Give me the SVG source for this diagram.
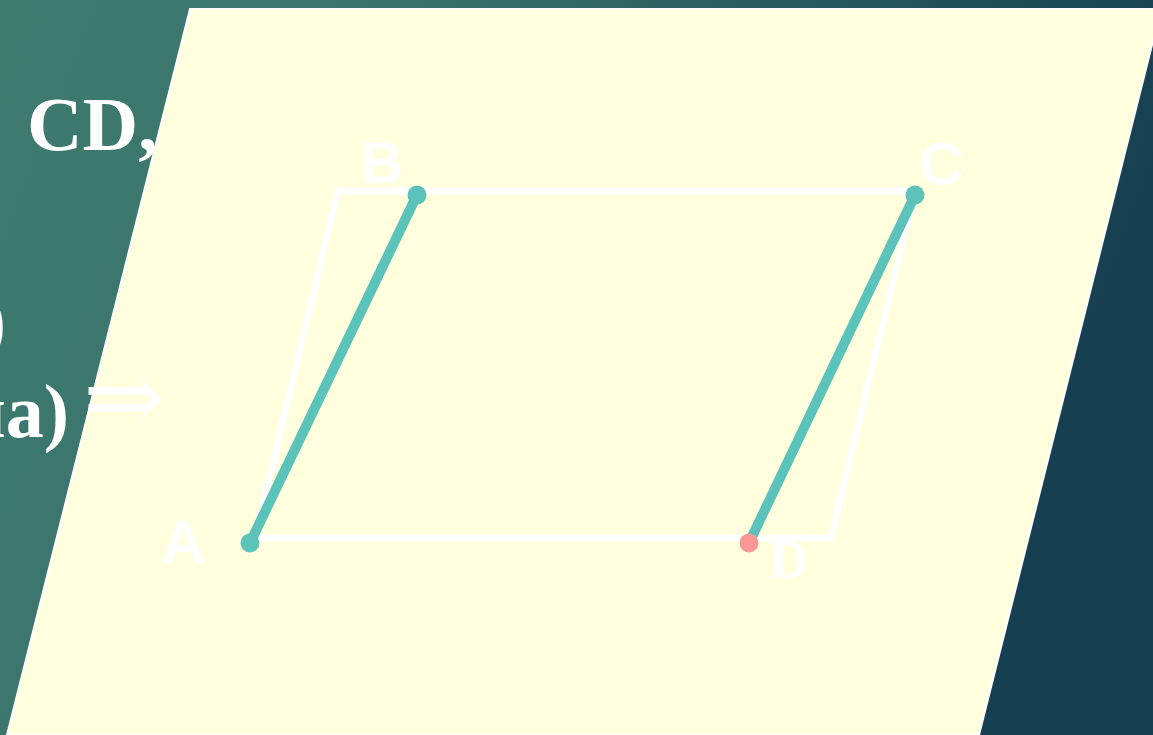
<svg xmlns="http://www.w3.org/2000/svg" width="1153" height="735" viewBox="0 0 1153 735">
  <defs>
    <linearGradient id="bg" x1="0" y1="0" x2="1" y2="0.25">
      <stop offset="0" stop-color="#3f7b6f"/>
      <stop offset="0.3" stop-color="#3a746b"/>
      <stop offset="1" stop-color="#163f50"/>
    </linearGradient>
    <style>
      .serif{font-family:"Liberation Serif","Times New Roman",serif;font-weight:bold;fill:#ffffff}
      .sans{font-family:"Liberation Sans",Arial,sans-serif;font-weight:bold;fill:#ffffff}
      .frame{fill:none;stroke:#ffffff;stroke-width:7;stroke-linejoin:miter}
      .seg{stroke:#5bc3b9;stroke-width:10;stroke-linecap:round}
      .dot{fill:#5bc3b9}
    </style>
  </defs>
  <rect width="1153" height="735" fill="url(#bg)"/>
  <g id="left-text">
    <text class="serif" x="27" y="150" font-size="77">CD,</text>
    <text class="serif" x="6" y="346" font-size="76" text-anchor="end">)</text>
    <text class="serif" x="69" y="437" font-size="76" text-anchor="end">на)</text>
  </g>
  <g id="plane">
    <polygon points="190,9 1161,9 979,735 7,735" fill="#ffffde" stroke="#ffffff" stroke-width="2"/>
  </g>
  <text id="arrow" x="83" y="431" font-size="98" fill="#ffffff" style="font-family:'Liberation Serif','DejaVu Serif',serif">⇒</text>
  <g id="frame">
    <polygon class="frame" points="338,191 915,191 831,538 255,538"/>
  </g>
  <g id="connectors">
    <line class="seg" x1="250" y1="543" x2="417" y2="195"/>
    <line class="seg" x1="749" y1="543" x2="915" y2="195"/>
  </g>
  <g id="label-D"><text class="serif" x="769" y="578" font-size="55">D</text></g>
  <g id="node-A">
    <circle class="dot" cx="250" cy="543" r="9.5"/>
    <text class="sans" x="161" y="563" font-size="62">A</text>
  </g>
  <g id="node-B">
    <circle class="dot" cx="417" cy="195" r="9.5"/>
    <text class="sans" x="360" y="183" font-size="60">B</text>
  </g>
  <g id="node-C">
    <circle class="dot" cx="915" cy="195" r="9.5"/>
    <text class="sans" x="919" y="185" font-size="62">C</text>
  </g>
  <g id="node-D">
    <circle cx="749" cy="543" r="9.5" fill="#f99696"/>
  </g>
</svg>
